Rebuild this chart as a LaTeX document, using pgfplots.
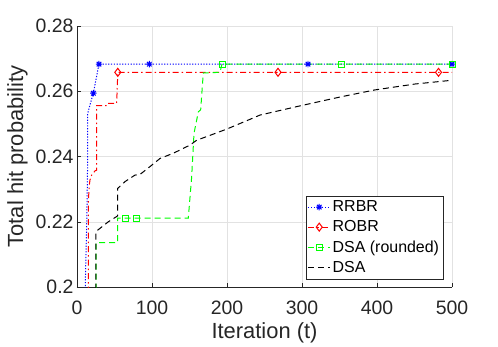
\documentclass[border=0pt]{standalone}
\usepackage{fontspec}
\setmainfont{Liberation Sans}
\usepackage{pgfplots}
\pgfplotsset{compat=1.18}
\definecolor{axgray}{RGB}{38,38,38}
\definecolor{gridc}{RGB}{226,226,226}

% MATLAB-like '*' marker: a plus and a cross on top of each other
\pgfdeclareplotmark{mstar}{%
  \pgfpathmoveto{\pgfqpoint{0pt}{\pgfplotmarksize}}%
  \pgfpathlineto{\pgfqpoint{0pt}{-\pgfplotmarksize}}%
  \pgfpathmoveto{\pgfqpoint{\pgfplotmarksize}{0pt}}%
  \pgfpathlineto{\pgfqpoint{-\pgfplotmarksize}{0pt}}%
  \pgfpathmoveto{\pgfqpoint{0.707\pgfplotmarksize}{0.707\pgfplotmarksize}}%
  \pgfpathlineto{\pgfqpoint{-0.707\pgfplotmarksize}{-0.707\pgfplotmarksize}}%
  \pgfpathmoveto{\pgfqpoint{-0.707\pgfplotmarksize}{0.707\pgfplotmarksize}}%
  \pgfpathlineto{\pgfqpoint{0.707\pgfplotmarksize}{-0.707\pgfplotmarksize}}%
  \pgfusepathqstroke}

\tikzset{
  mdot/.style={dash pattern=on 1.2bp off 1.6bp},
  mdash/.style={dash pattern=on 6bp off 4bp},
  mdashdot/.style={dash pattern=on 6bp off 3bp on 1.5bp off 3bp},
}

\begin{document}
\begin{tikzpicture}
\begin{axis}[
    scale only axis,
    width=375bp, height=261bp,
    xmin=0, xmax=500, ymin=0.2, ymax=0.28,
    xtick={0,100,200,300,400,500},
    ytick={0.2,0.22,0.24,0.26,0.28},
    yticklabel style={/pgf/number format/fixed, /pgf/number format/precision=2},
    /pgf/number format/assume math mode=true,
    axis lines*=left,
    axis line style={axgray, line width=0.5pt, -},
    tick style={axgray, line width=0.5pt},
    tick align=inside, major tick length=4bp,
    grid=major,
    major grid style={gridc, line width=0.5pt},
    ticklabel style={font=\fontsize{19.5}{22}\selectfont, text=axgray},
    xticklabel style={anchor=base, yshift=-27bp},
    label style={font=\fontsize{22}{26}\selectfont, text=axgray},
    xlabel={Iteration (t)},
    ylabel={Total hit probability},
    xlabel style={at={(axis description cs:0.5,-0.199)}, anchor=base},
    ylabel style={at={(axis description cs:-0.144,0.5)}, anchor=base},
    legend image code/.code={\draw[mark repeat=2,mark phase=2,#1] plot coordinates {(0bp,0bp) (11bp,0bp) (22bp,0bp)};},
    legend style={at={(axis description cs:1,0)}, anchor=south east, xshift=-8.7bp, yshift=7.7bp,
        draw=axgray, line width=0.5pt, fill=white,
        font=\fontsize{16}{18}\selectfont, row sep=3.5bp,
        inner xsep=2bp, inner ysep=3bp},
    legend cell align=left,
]
% RRBR
\addplot[blue, mdot, line width=1pt, forget plot] coordinates {
    (10,0.19) (11,0.2) (13,0.22) (14,0.235) (14.3,0.2532) (17.3,0.2558)
    (21.8,0.2594) (24,0.262) (29.3,0.2683) (96.4,0.2683) (308,0.2683) (500,0.2683)
};
\addplot[only marks, blue, mark=mstar, mark size=3.2bp, line width=1pt, forget plot] coordinates {
    (21.8,0.2594) (29.3,0.2683) (96.4,0.2683) (308,0.2683) (500,0.2683)
};
% ROBR
\addplot[red, mdashdot, line width=1pt, forget plot] coordinates {
    (15.1,0.19) (15.1,0.226) (16.3,0.231) (17.3,0.2328) (19.6,0.2343) (24,0.2356)
    (26.2,0.2358) (26.2,0.2556) (39.6,0.2556) (40.9,0.2563) (52.9,0.2563)
    (54.4,0.2658) (268,0.2658) (482,0.2658) (500,0.2658)
};
\addplot[only marks, red, mark=diamond, mark size=4bp, line width=1pt, forget plot] coordinates {
    (54.4,0.2658) (268,0.2658) (482,0.2658)
};
% DSA (rounded)
\addplot[green, mdash, line width=1pt, forget plot] coordinates {
    (25.5,0.19) (25.5,0.2136) (54.2,0.2136) (54.2,0.2211) (64,0.2211) (78.7,0.2211)
    (148.4,0.2211) (149.3,0.2236) (152.9,0.2338) (156,0.2471) (161.8,0.2537)
    (164.9,0.2543) (168.4,0.2656) (190.7,0.2658) (193,0.2681) (194,0.2683)
    (352,0.2683) (500,0.2683)
};
\addplot[only marks, green, mark=square, mark size=3bp, line width=1pt, forget plot] coordinates {
    (64,0.2211) (78.7,0.2211) (194,0.2683) (352,0.2683) (500,0.2683)
};
% DSA
\addplot[black, mdash, line width=1pt, forget plot] coordinates {
    (25.3,0.19) (25.3,0.217) (28,0.2175) (41.8,0.22) (52.9,0.2216) (54.2,0.2218)
    (54.2,0.2302) (64,0.2323) (77.3,0.2343) (84,0.2345) (97.3,0.2369)
    (110.7,0.2394) (128.4,0.241) (150.7,0.2435) (159.6,0.245) (172.9,0.2461)
    (199.6,0.2484) (230.7,0.2514) (244,0.2527) (297,0.2555) (350,0.2582)
    (397,0.2604) (450,0.2622) (497,0.2633) (500,0.2634)
};
\addlegendimage{blue, mdot, line width=1pt, mark=mstar, mark size=3.2bp, mark options={solid}}
\addlegendentry{RRBR}
\addlegendimage{red, mdashdot, line width=1pt, mark=diamond, mark size=4bp, mark options={solid}}
\addlegendentry{ROBR}
\addlegendimage{green, mdash, line width=1pt, mark=square, mark size=3bp, mark options={solid}}
\addlegendentry{DSA (rounded)}
\addlegendimage{black, mdash, line width=1pt}
\addlegendentry{DSA}
\end{axis}
\pgfresetboundingbox
\path[use as bounding box] (-77bp,-60bp) rectangle (421bp,287bp);
\end{tikzpicture}
\end{document}
